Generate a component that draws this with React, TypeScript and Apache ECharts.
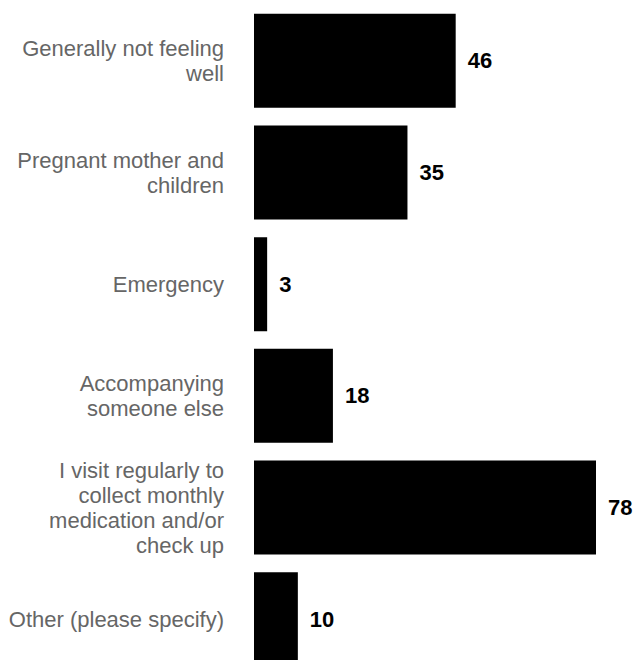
import React, { useEffect, useRef } from "react";
import * as echarts from "echarts";

const categories = [
  "Generally not feeling well",
  "Pregnant mother and children",
  "Emergency",
  "Accompanying someone else",
  "I visit regularly to collect monthly medication and/or check up",
  "Other (please specify)",
];

const tickLabels = [
  "Generally not feeling\nwell",
  "Pregnant mother and\nchildren",
  "Emergency",
  "Accompanying\nsomeone else",
  "I visit regularly to\ncollect monthly\nmedication and/or\ncheck up",
  "Other (please specify)",
];

const values = [46, 35, 3, 18, 78, 10];

export default function App() {
  const ref = useRef<HTMLDivElement>(null);
  useEffect(() => {
    if (!ref.current) return;
    const chart = echarts.init(ref.current, null, { renderer: "svg" });
    const font = "'Liberation Sans', Arial, Helvetica, sans-serif";
    chart.setOption({
      animation: false,
      textStyle: { fontFamily: font },
      grid: { left: 254, top: 5, width: 342, height: 670, containLabel: false },
      xAxis: {
        type: "value",
        min: 0,
        max: Math.max(...values),
        show: false,
      },
      yAxis: {
        type: "category",
        inverse: true,
        data: categories,
        axisLine: { show: false },
        axisTick: { show: false },
        splitLine: { show: false },
        axisLabel: {
          margin: 30,
          color: "#666666",
          fontSize: 22,
          lineHeight: 25,
          fontFamily: font,
          align: "right",
          formatter: (_v: string, i: number) => tickLabels[i],
        },
      },
      series: [
        {
          type: "bar",
          data: values,
          barWidth: 94,
          itemStyle: { color: "#000000" },
          label: {
            show: true,
            position: "right",
            distance: 12,
            color: "#000000",
            fontSize: 22,
            fontWeight: "bold",
            fontFamily: font,
          },
        },
      ],
    });
    return () => chart.dispose();
  }, []);
  return (
    <div
      ref={ref}
      style={{ position: "absolute", left: 0, top: 0, width: 636, height: 700 }}
    />
  );
}
